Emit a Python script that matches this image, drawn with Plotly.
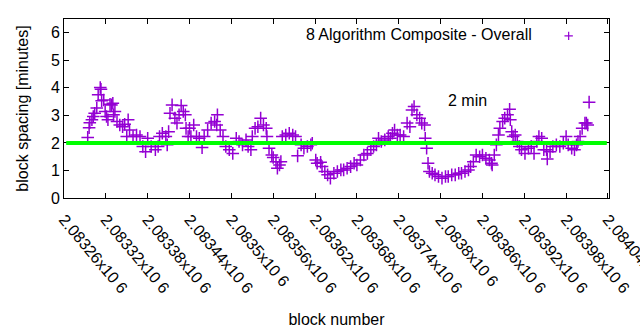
import plotly.graph_objects as go

# ---- data ----
block_number = [
    2083294, 2083296, 2083297, 2083300, 2083302, 2083304, 2083307, 2083309, 2083312, 2083313,
    2083314, 2083317, 2083319, 2083321, 2083323, 2083326, 2083328, 2083330, 2083331, 2083333,
    2083336, 2083340, 2083344, 2083347, 2083350, 2083352, 2083354, 2083359, 2083364, 2083369,
    2083373, 2083377, 2083380, 2083385, 2083391, 2083395, 2083397, 2083401, 2083406, 2083408,
    2083410, 2083412, 2083415, 2083419, 2083422, 2083425, 2083428, 2083431, 2083434, 2083435,
    2083438,
    2083440, 2083442, 2083446, 2083450, 2083454, 2083458, 2083461, 2083466, 2083471, 2083476,
    2083479, 2083480, 2083484, 2083488, 2083492, 2083497, 2083502, 2083507, 2083511, 2083516,
    2083521, 2083524, 2083528, 2083530, 2083534, 2083538, 2083542, 2083546, 2083550, 2083551,
    2083554, 2083558, 2083560, 2083564, 2083566, 2083569, 2083571, 2083573, 2083578, 2083583,
    2083588, 2083592, 2083595, 2083600, 2083604, 2083609, 2083614, 2083616, 2083621, 2083623,
    2083628, 2083630, 2083634, 2083638, 2083642, 2083647, 2083652, 2083657, 2083661, 2083666,
    2083671, 2083676, 2083680, 2083685, 2083690, 2083695, 2083700, 2083704, 2083708, 2083711,
    2083715, 2083720, 2083725, 2083728, 2083731, 2083734, 2083738, 2083742, 2083747, 2083752,
    2083756, 2083759, 2083762, 2083766, 2083770, 2083773, 2083777, 2083778, 2083780, 2083782,
    2083784, 2083788, 2083792, 2083797, 2083802, 2083807, 2083811, 2083816, 2083821, 2083826,
    2083830, 2083835, 2083840, 2083843, 2083847, 2083851, 2083856, 2083860, 2083865, 2083870,
    2083873, 2083874, 2083877, 2083880, 2083883, 2083885, 2083889, 2083892, 2083896, 2083899,
    2083900, 2083902, 2083904, 2083907, 2083910, 2083913, 2083916, 2083921, 2083926, 2083930,
    2083934, 2083938, 2083941, 2083945, 2083948, 2083952, 2083953, 2083957, 2083961, 2083966,
    2083971, 2083976, 2083980, 2083983, 2083988, 2083992, 2083995, 2083997, 2084000, 2084003,
    2084007, 2084009, 2084011, 2084013,
]

spacing_minutes = [
    2.20, 2.55, 2.73, 2.84, 2.96, 3.08, 3.27, 3.75, 4.01, 3.95,
    3.53, 3.56, 3.14, 2.96, 2.84, 3.40, 3.38, 3.44, 3.02, 3.14,
    2.78, 2.65, 2.59, 2.68, 2.23, 2.84, 2.47, 2.23, 2.29, 2.23,
    1.87, 1.68, 2.17, 1.87, 1.75, 1.87, 2.23, 2.35, 2.23, 1.93,
    2.41, 3.08, 3.38, 2.90, 2.72, 3.02, 3.36, 3.14, 3.02, 2.53,
    2.23,
    2.53, 2.23, 2.65, 2.23, 2.17, 1.83, 2.23, 2.47, 2.72, 2.78,
    2.65, 3.02, 2.47, 2.23, 1.87, 1.75, 1.62, 2.17, 2.05, 1.93,
    2.11, 1.87, 1.75, 2.23, 2.53, 2.59, 2.90, 2.65, 2.53, 2.23,
    1.81, 1.56, 1.47, 1.32, 1.08, 1.20, 1.32, 2.23, 2.29, 2.35,
    2.29, 2.23, 1.53, 1.93, 1.81, 1.87, 1.93, 1.99, 1.38, 1.26,
    1.30, 1.14, 0.96, 0.84, 0.72, 0.90, 0.96, 1.02, 1.02, 1.08,
    1.14, 1.26, 1.20, 1.38, 1.56, 1.62, 1.75, 1.87, 1.93, 2.17,
    2.05, 2.11, 2.23, 2.17, 2.35, 2.47, 2.29, 2.29, 2.23, 2.72,
    2.59, 3.20, 3.32, 3.02, 2.90, 2.72, 2.65, 2.17, 1.81, 1.26,
    0.96, 0.90, 0.84, 0.78, 0.72, 0.78, 0.78, 0.84, 0.84, 0.90,
    0.90, 0.96, 1.02, 1.14, 1.32, 1.56, 1.50, 1.56, 1.44, 1.38,
    1.26, 1.20, 1.56, 1.93, 2.29, 2.53, 2.78, 2.90, 3.02, 3.22,
    2.84, 2.41, 2.23, 2.29, 2.05, 1.87, 1.75, 1.62, 1.81, 1.87,
    1.62, 2.05, 2.23, 2.17, 1.75, 1.75, 1.42, 1.68, 1.87, 1.93,
    1.87, 1.99, 2.23, 1.93, 1.81, 1.75, 1.93, 2.05, 2.23, 2.53,
    2.72, 2.72, 2.65, 3.48,
]

assert len(block_number) == len(spacing_minutes)

series_name = "8 Algorithm Composite - Overall"
target_minutes = 2
target_label = "2 min"

x_tick_values = list(range(2083260, 2084041, 60))
x_tick_labels = [f"{v / 1e6:.6g}x10 6" for v in x_tick_values]
y_tick_values = [0, 1, 2, 3, 4, 5, 6]

# ---- styling ----
FONT = "Liberation Sans, Arial, sans-serif"
PURPLE = "#9400d3"
GREEN = "#00ff00"

fig = go.Figure()
fig.add_trace(go.Scatter(
    x=block_number, y=spacing_minutes, mode="markers", name=series_name,
    marker=dict(symbol="cross-thin", size=9, line=dict(color=PURPLE, width=1.5), color=PURPLE),
    showlegend=False,
))
# legend key (symbol only; the series label is the legend title on its left, gnuplot style)
fig.add_trace(go.Scatter(
    x=[None], y=[None], mode="markers", name="",
    marker=dict(symbol="cross-thin", size=6, line=dict(color=PURPLE, width=1.2), color=PURPLE),
    showlegend=True,
))

fig.add_shape(type="line", xref="x domain", yref="y",
              x0=0.004, x1=0.996, y0=target_minutes, y1=target_minutes,
              line=dict(color=GREEN, width=4), layer="above")

fig.add_annotation(text=target_label, xref="paper", yref="paper",
                   x=0.701, y=0.542, xanchor="left", yanchor="middle",
                   showarrow=False, font=dict(family=FONT, size=16, color="black"))

axis_common = dict(
    showline=True, linecolor="black", linewidth=1, mirror="allticks",
    ticks="inside", ticklen=5, tickcolor="black", tickwidth=1,
    showgrid=False, zeroline=False,
    tickfont=dict(family=FONT, size=16, color="black"),
)

fig.update_xaxes(
    range=[2083260, 2084041.5], tickmode="array", tickvals=x_tick_values,
    ticktext=x_tick_labels, tickangle=50, ticklabelstandoff=5,
    ticklabeloverflow="allow",
    title=dict(text="block number", font=dict(family=FONT, size=16, color="black"), standoff=18),
    **axis_common,
)
fig.update_yaxes(
    range=[0, 6.5], tickmode="array", tickvals=y_tick_values,
    title=dict(text="block spacing [minutes]", font=dict(family=FONT, size=16, color="black"), standoff=18),
    **axis_common,
)

fig.update_layout(
    width=640, height=330,
    margin=dict(l=64, r=31, t=19, b=132, autoexpand=False),
    paper_bgcolor="white", plot_bgcolor="white",
    font=dict(family=FONT, size=16, color="black"),
    showlegend=True,
    legend=dict(
        title=dict(text=series_name + "&nbsp;&nbsp;", side="left",
                   font=dict(family=FONT, size=16, color="black")),
        orientation="h", x=0.4402, y=1.0, xanchor="left", yanchor="top",
        bgcolor="rgba(0,0,0,0)", font=dict(family=FONT, size=16),
    ),
)

fig.write_html("out.html")
